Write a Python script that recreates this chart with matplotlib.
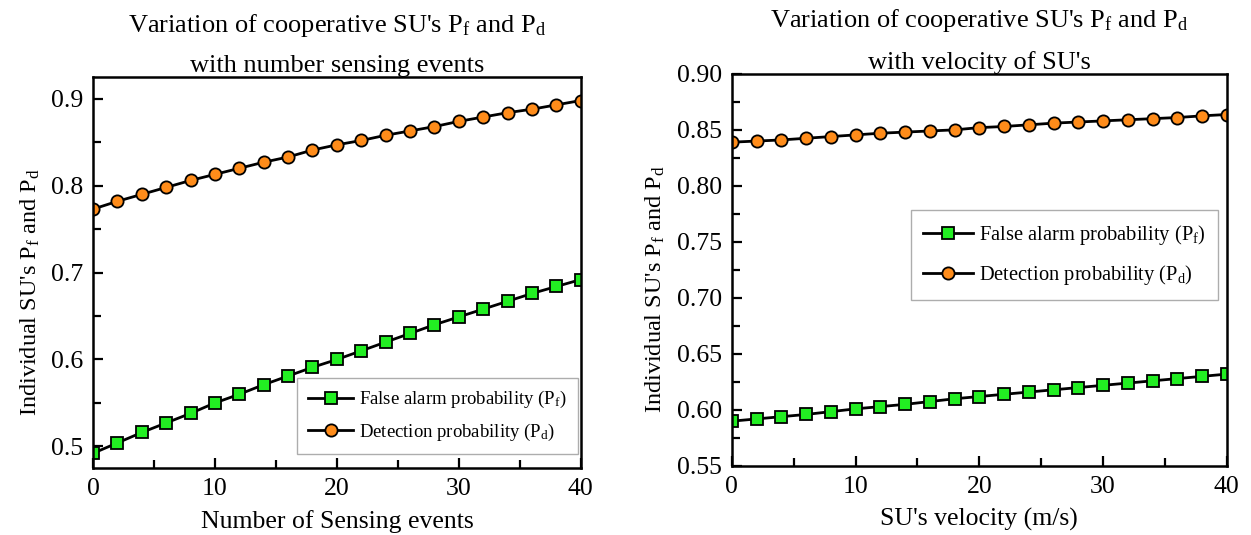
import matplotlib
matplotlib.use("Agg")
import matplotlib.pyplot as plt
from matplotlib.ticker import MultipleLocator

plt.rcParams["font.family"] = ["Liberation Serif", "DejaVu Serif"]
plt.rcParams["mathtext.fontset"] = "custom"
plt.rcParams["mathtext.rm"] = "Liberation Serif"
plt.rcParams["mathtext.it"] = "Liberation Serif"

# Left panel: number of sensing events
events = [0, 2, 4, 6, 8, 10, 12, 14, 16, 18, 20, 22, 24, 26, 28, 30, 32, 34, 36, 38, 40]
pf_events = [0.492, 0.504, 0.516, 0.527, 0.538, 0.550, 0.560, 0.571, 0.581, 0.591, 0.600,
             0.610, 0.620, 0.630, 0.640, 0.649, 0.658, 0.667, 0.676, 0.684, 0.692]
pd_events = [0.773, 0.782, 0.790, 0.798, 0.806, 0.813, 0.820, 0.827, 0.833, 0.841, 0.847,
             0.852, 0.858, 0.863, 0.868, 0.874, 0.879, 0.884, 0.888, 0.893, 0.898]

# Right panel: SU velocity (m/s)
velocity = [0, 2, 4, 6, 8, 10, 12, 14, 16, 18, 20, 22, 24, 26, 28, 30, 32, 34, 36, 38, 40]
pf_velocity = [0.590, 0.592, 0.594, 0.596, 0.5985, 0.601, 0.603, 0.605, 0.6075, 0.610, 0.612,
               0.614, 0.616, 0.618, 0.620, 0.622, 0.624, 0.626, 0.628, 0.630, 0.632]
pd_velocity = [0.839, 0.840, 0.841, 0.8425, 0.844, 0.8455, 0.847, 0.848, 0.849, 0.850, 0.852,
               0.853, 0.8545, 0.856, 0.857, 0.858, 0.859, 0.860, 0.861, 0.8625, 0.8637]

PF_LABEL = r"False alarm probability ($\mathrm{P_f}$)"
PD_LABEL = r"Detection probability ($\mathrm{P_d}$)"
YLABEL = r"Individual SU's $\mathrm{P_f}$ and $\mathrm{P_d}$"
TITLE_TOP = r"Variation of cooperative SU's $\mathrm{P_f}$ and $\mathrm{P_d}$"


def draw_panel(ax, x, pf, pd, xlabel, title_bottom, ylim, ymajor, label_x, legend_kw):
    ax.plot(x, pf, color="black", lw=2.0, marker="s", ms=8,
            mfc="#22ee22", mec="black", mew=1.3, label=PF_LABEL)
    ax.plot(x, pd, color="black", lw=2.0, marker="o", ms=8.8,
            mfc="#ff8c1a", mec="black", mew=1.3, label=PD_LABEL)

    ax.set_xlim(0, 40)
    ax.set_ylim(*ylim)
    ax.xaxis.set_major_locator(MultipleLocator(10))
    ax.xaxis.set_minor_locator(MultipleLocator(5))
    ax.yaxis.set_major_locator(MultipleLocator(ymajor))
    ax.yaxis.set_minor_locator(MultipleLocator(ymajor / 2))
    ax.tick_params(which="both", direction="in", top=False, right=False,
                   width=1.6, labelsize=18.5)
    ax.tick_params(which="major", length=7, pad=7)
    ax.tick_params(which="minor", length=6)
    for spine in ax.spines.values():
        spine.set_linewidth(1.8)

    ax.set_xlabel(xlabel, fontsize=18.5, labelpad=7)
    ax.set_ylabel(YLABEL, fontsize=17.5)
    ax.yaxis.set_label_coords(label_x, 0.45)
    ax.set_title(TITLE_TOP + "\n" + title_bottom, fontsize=19, linespacing=1.95, pad=3)

    leg = ax.legend(frameon=True, fancybox=False, handlelength=2.4, handletextpad=0.3,
                    borderpad=0.6, borderaxespad=0, **legend_kw)
    leg.get_frame().set_edgecolor("#999999")
    leg.get_frame().set_linewidth(1.0)
    return leg


fig = plt.figure(figsize=(12.51, 5.35), dpi=100)
ax1 = fig.add_axes([0.0743, 0.125, 0.390, 0.731])
ax2 = fig.add_axes([0.585, 0.129, 0.3957, 0.733])

draw_panel(ax1, events, pf_events, pd_events, "Number of Sensing events",
           "with number sensing events", (0.475, 0.925), 0.1, -0.105,
           dict(loc="lower right", bbox_to_anchor=(0.994, 0.036),
                fontsize=13.5, labelspacing=0.6))

draw_panel(ax2, velocity, pf_velocity, pd_velocity, "SU's velocity (m/s)",
           "with velocity of SU's", (0.55, 0.90), 0.05, -0.13,
           dict(loc="center right", bbox_to_anchor=(0.982, 0.538),
                fontsize=14.8, labelspacing=0.8))

fig.savefig("out.png", dpi=100)
